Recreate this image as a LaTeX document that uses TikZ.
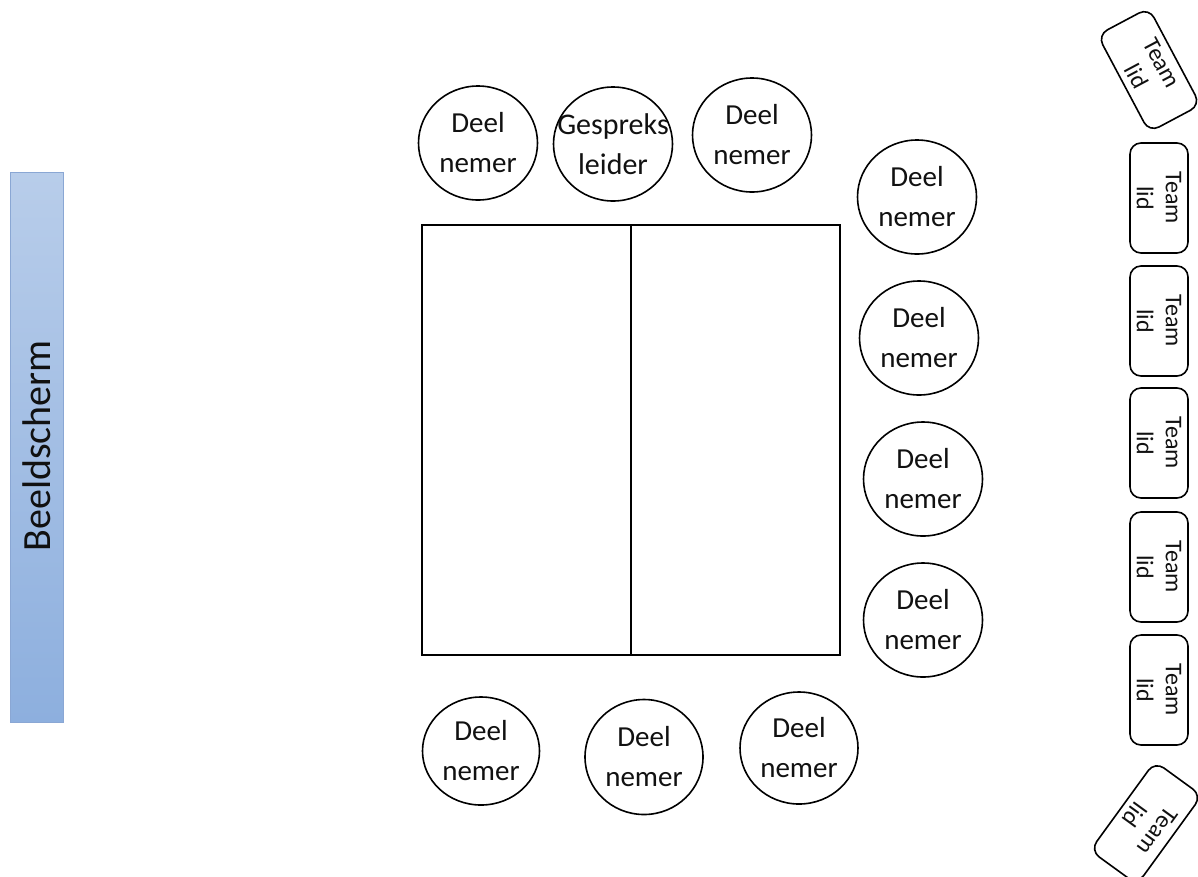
\documentclass[tikz,border=0pt]{standalone}
\usepackage{fontspec}
\setmainfont{Carlito}
\usetikzlibrary{shapes.geometric}
\definecolor{scrtop}{HTML}{B8CDEA}
\definecolor{scrbot}{HTML}{8DAFDE}
\definecolor{scredge}{HTML}{8AA7D4}
\definecolor{txt}{HTML}{111111}
\tikzset{
  seat/.style={draw=black, line width=1.6pt, ellipse, inner sep=0pt,
    minimum width=119pt, minimum height=114pt, align=center, text=txt,
    font=\fontsize{29}{40}\selectfont},
  member/.style={draw=black, line width=1.6pt, rounded corners=11pt,
    minimum width=110pt, minimum height=58pt, inner sep=0pt, align=center,
    text=txt, font=\fontsize{24}{29}\selectfont},
  tableline/.style={draw=black, line width=1.7pt}
}
\begin{document}
\begin{tikzpicture}[x=1pt,y=-1pt]
\useasboundingbox (0,0) rectangle (1198,876);
\fill[white] (0,0) rectangle (1198,876);
% screen
\path[top color=scrtop, bottom color=scrbot, draw=scredge, line width=0.8pt] (10,172) rectangle (63,722);
\node[rotate=90, text=txt, font=\fontsize{40}{46}\selectfont] (screen) at (37,446) {Beeldscherm};
% table
\draw[tableline] (422,225) rectangle (840,655);
\coordinate (divtop) at (631,225);
\coordinate (divbot) at (631,655);
\draw[tableline] (divtop) -- (divbot);
% seats
\node[seat] (t1) at (478,143) {Deel\\nemer};
\node[seat, inner xsep=-20pt, font=\fontsize{30}{40}\selectfont] (t2) at (613,144) {Gespreks\\leider};
\node[seat] (t3) at (752,135) {Deel\\nemer};
\node[seat] (r1) at (917,197) {Deel\\nemer};
\node[seat] (r2) at (919,338) {Deel\\nemer};
\node[seat] (r3) at (923,479) {Deel\\nemer};
\node[seat] (r4) at (923,620) {Deel\\nemer};
\node[seat, minimum width=117pt, minimum height=108pt] (b1) at (481,751) {Deel\\nemer};
\node[seat, minimum width=118pt, minimum height=115pt] (b2) at (644,757) {Deel\\nemer};
\node[seat, minimum width=118pt, minimum height=112pt] (b3) at (799,748) {Deel\\nemer};
% team members
\node[member, rotate=-62] (m0) at (1149,70) {Team\\lid};
\node[member, rotate=-90] (m1) at (1159,198) {Team\\lid};
\node[member, rotate=-90] (m2) at (1159,321) {Team\\lid};
\node[member, rotate=-90] (m3) at (1159,443) {Team\\lid};
\node[member, rotate=-90] (m4) at (1159,567) {Team\\lid};
\node[member, rotate=-90] (m5) at (1159,690) {Team\\lid};
\node[member, rotate=-126] (m6) at (1146,823) {Team\\lid};
\end{tikzpicture}
\end{document}
